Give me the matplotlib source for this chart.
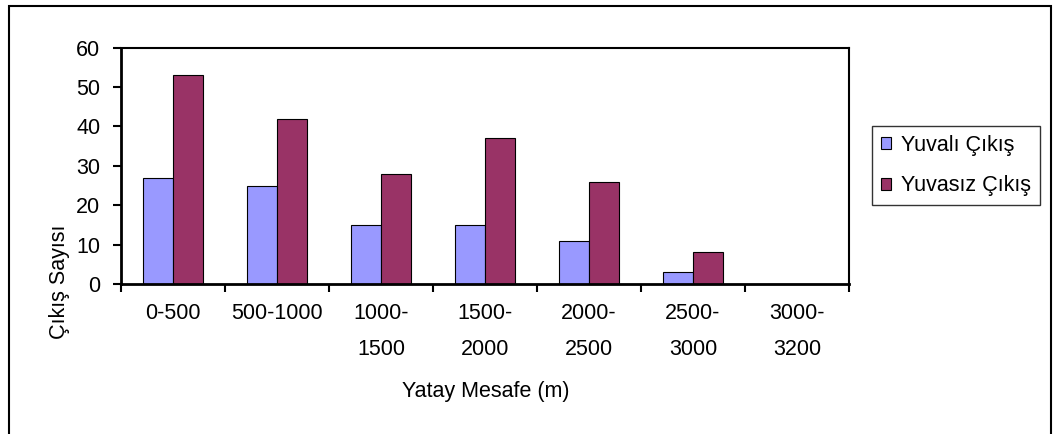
import matplotlib.pyplot as plt
import numpy as np
from matplotlib.patches import Rectangle, Patch

plt.rcParams['font.family'] = ['Liberation Sans', 'DejaVu Sans']

categories = ['0-500', '500-1000', '1000-\n1500', '1500-\n2000', '2000-\n2500', '2500-\n3000', '3000-\n3200']
yuvali = [27, 25, 15, 15, 11, 3, 0]
yuvasiz = [53, 42, 28, 37, 26, 8, 0]

W, H = 1055, 434
FS = 15.5
fig = plt.figure(figsize=(W / 100, H / 100), dpi=100)
ax = fig.add_axes([121 / W, 1 - 284 / H, (849 - 121) / W, (284 - 47.7) / H])

x = np.arange(len(categories))
bw = 1 / 3.5
ax.bar(x - bw / 2, yuvali, bw, color='#9999FF', edgecolor='black', linewidth=0.8, label='Yuvalı Çıkış')
ax.bar(x + bw / 2, yuvasiz, bw, color='#993366', edgecolor='black', linewidth=0.8, label='Yuvasız Çıkış')

ax.set_xlim(-0.5, len(categories) - 0.5)
ax.set_ylim(0, 60)
ax.set_yticks(range(0, 61, 10))
ax.tick_params(axis='y', labelsize=FS, length=6, width=1.5, pad=9)

# category boundary ticks, labels at centers
ax.set_xticks(np.arange(-0.5, len(categories)), minor=False)
ax.set_xticklabels([])
ax.set_xticks(x, minor=True)
ax.set_xticklabels(categories, minor=True, fontsize=FS, linespacing=1.9)
ax.tick_params(axis='x', which='major', length=6, width=1.5)
ax.tick_params(axis='x', which='minor', length=0, pad=14)

for s in ['left', 'bottom']:
    ax.spines[s].set_linewidth(2)
for s in ['top', 'right']:
    ax.spines[s].set_linewidth(1.5)

fig.text(59 / W, 1 - 282 / H, 'Çıkış Sayısı', rotation=90, ha='center', va='center', fontsize=FS)
fig.text(486 / W, 1 - 392 / H, 'Yatay Mesafe (m)', ha='center', va='center', fontsize=FS)

handles = [Patch(facecolor='#9999FF', edgecolor='black', linewidth=0.8),
           Patch(facecolor='#993366', edgecolor='black', linewidth=0.8)]
leg = fig.legend(handles, ['Yuvalı Çıkış', 'Yuvasız Çıkış'], loc='upper left',
                 bbox_to_anchor=(871.5 / W, 1 - 126 / H), fontsize=FS, frameon=True,
                 fancybox=False, handlelength=0.47, handleheight=0.47, handletextpad=0.5,
                 labelspacing=0.9, borderpad=0.42, borderaxespad=0)
leg.get_frame().set_edgecolor('black')
leg.get_frame().set_linewidth(1)

# outer chart border
fig.patches.append(Rectangle((9 / W, -0.05), (1051 - 9) / W, 1 - 6 / H + 0.05,
                             transform=fig.transFigure, fill=False, edgecolor='black', linewidth=1.5))

fig.savefig('out.png', dpi=100, facecolor='white')
